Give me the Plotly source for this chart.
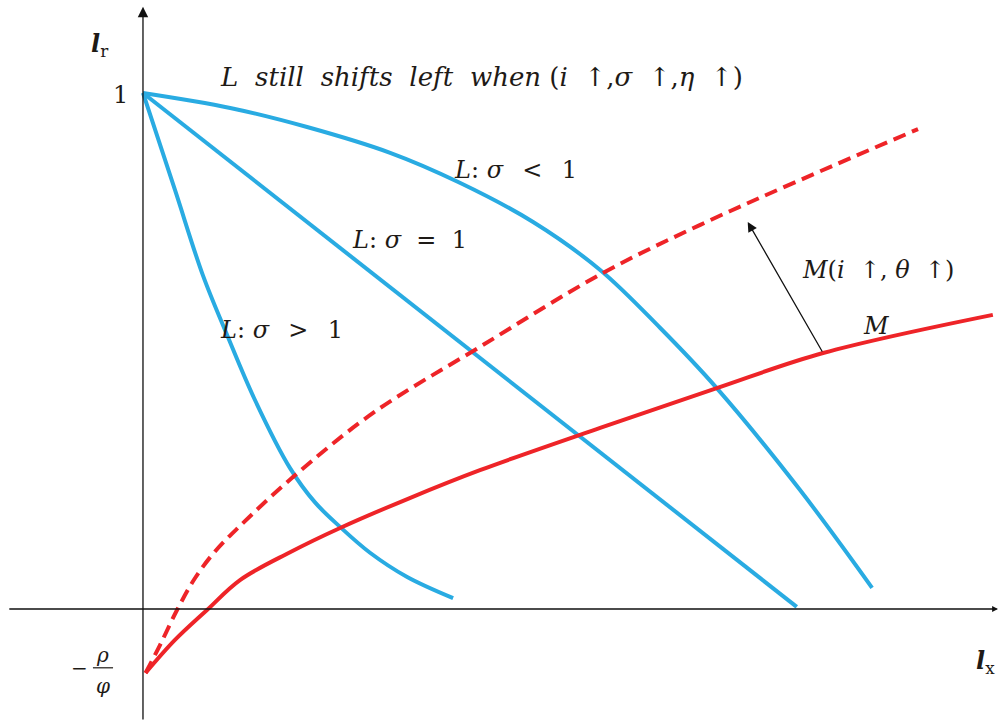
import plotly.graph_objects as go

# Labour-market curves L (three elasticity cases), in (l_x, l_r) units
l_sigma_lt1_x = [0.0, 0.169, 0.318, 0.479, 0.614, 0.756, 0.886, 1.002, 1.112, 1.273, 1.413]
l_sigma_lt1_y = [1.0, 0.971, 0.934, 0.884, 0.826, 0.750, 0.657, 0.545, 0.428, 0.231, 0.041]

l_sigma_eq1_x = [0.0, 1.267]
l_sigma_eq1_y = [1.0, 0.004]

l_sigma_gt1_x = [0.0, 0.062, 0.116, 0.163, 0.217, 0.285, 0.333, 0.382, 0.440, 0.512, 0.601]
l_sigma_gt1_y = [1.0, 0.812, 0.647, 0.531, 0.405, 0.273, 0.207, 0.159, 0.109, 0.062, 0.021]

# Money-market curve M and its shifted position M(i↑, θ↑)
m_x = [0.005, 0.062, 0.124, 0.188, 0.285, 0.382, 0.517, 0.653, 0.886, 1.112, 1.318, 1.647]
m_y = [-0.124, -0.060, -0.002, 0.056, 0.110, 0.157, 0.215, 0.269, 0.351, 0.428, 0.496, 0.570]

m_shift_x = [0.005, 0.033, 0.066, 0.101, 0.140, 0.188, 0.291, 0.446, 0.653, 0.891, 1.079, 1.273, 1.502]
m_shift_y = [-0.124, -0.070, -0.002, 0.060, 0.112, 0.161, 0.256, 0.380, 0.508, 0.651, 0.744, 0.831, 0.930]

# Shift arrow between M and M(i↑, θ↑)
shift_tail = (1.318, 0.496)
shift_head = (1.172, 0.750)

X_RANGE = [-0.2771, 1.6609]
Y_RANGE = [-0.2171, 1.1802]

BLUE = "#29ABE2"
RED = "#EE2428"
INK = "#1e1a16"
MATH_FONT = "DejaVu Serif"
SP = "&nbsp;"
WORD_GAP = " &#8196;"
ARROW_GAP = "&nbsp;&nbsp;"
REL_GAP = "&nbsp;&nbsp;&#8198;"

fig = go.Figure()

for xs, ys in [(l_sigma_lt1_x, l_sigma_lt1_y),
               (l_sigma_eq1_x, l_sigma_eq1_y),
               (l_sigma_gt1_x, l_sigma_gt1_y)]:
    fig.add_trace(go.Scatter(x=xs, y=ys, mode="lines",
                             line=dict(color=BLUE, width=4, shape="spline", smoothing=1.0),
                             hoverinfo="skip", showlegend=False))

fig.add_trace(go.Scatter(x=m_x, y=m_y, mode="lines",
                         line=dict(color=RED, width=4, shape="spline", smoothing=1.0),
                         hoverinfo="skip", showlegend=False))
fig.add_trace(go.Scatter(x=m_shift_x, y=m_shift_y, mode="lines",
                         line=dict(color=RED, width=4, shape="spline", smoothing=1.0,
                                   dash="13px,7px"),
                         hoverinfo="skip", showlegend=False))

annotations = []

# coordinate axes with arrowheads
annotations.append(dict(x=0, y=1.167, ax=0, ay=Y_RANGE[0], xref="x", yref="y",
                        axref="x", ayref="y", showarrow=True, arrowhead=2,
                        arrowsize=1.6, arrowwidth=1.3, arrowcolor="#111", text=""))
annotations.append(dict(x=1.657, y=0, ax=-0.262, ay=0, xref="x", yref="y",
                        axref="x", ayref="y", showarrow=True, arrowhead=2,
                        arrowsize=0.9, arrowwidth=1.3, arrowcolor="#111", text=""))

# shift arrow
annotations.append(dict(x=shift_head[0], y=shift_head[1], ax=shift_tail[0], ay=shift_tail[1],
                        xref="x", yref="y", axref="x", ayref="y", showarrow=True,
                        arrowhead=2, arrowsize=1.5, arrowwidth=1.3, arrowcolor="#111", text=""))


def label(x, y, text, size=24, anchor="center", family=MATH_FONT, color=INK):
    annotations.append(dict(x=x, y=y, xref="x", yref="y", text=text, showarrow=False,
                            xanchor=anchor, yanchor="middle",
                            font=dict(family=family, size=size, color=color)))


title_words = WORD_GAP.join(["L", "still", "shifts", "left", "when"])
label(0.145, 1.031,
      f"<i>{title_words}</i>{SP}(<i>i</i>{ARROW_GAP}↑,<i>σ</i>{ARROW_GAP}↑,<i>η</i>{ARROW_GAP}↑)",
      size=26, anchor="left")
label(-0.043, 0.996, "1", size=24)
label(-0.083, 1.093, "<b><i>l</i></b><sub>r</sub>", size=24)
label(1.632, -0.103, "<b><i>l</i></b><sub>x</sub>", size=24)
label(0.599, 0.851, f"<i>L</i>:{SP}<i>σ</i>{REL_GAP}&lt;{REL_GAP}1", anchor="left")
label(0.401, 0.715, f"<i>L</i>:{SP}<i>σ</i>{SP}{SP}={SP}{SP}1", anchor="left")
label(0.145, 0.541, f"<i>L</i>:{SP}<i>σ</i>{REL_GAP}&gt;{REL_GAP}1", anchor="left")
label(1.273, 0.657, f"<i>M</i>(<i>i</i>{ARROW_GAP}↑,{SP}<i>θ</i>{ARROW_GAP}↑)", anchor="left")
label(1.422, 0.548, "<i>M</i>")

# −ρ/φ intercept label
label(-0.124, -0.114, "−", size=20)
label(-0.078, -0.089, "<i>ρ</i>", size=20)
label(-0.078, -0.149, "<i>φ</i>", size=20)

shapes = [dict(type="line", xref="x", yref="y", x0=-0.097, x1=-0.058, y0=-0.114, y1=-0.114,
               line=dict(color=INK, width=1.2))]

fig.update_layout(
    width=1000, height=721,
    margin=dict(l=0, r=0, t=0, b=0),
    paper_bgcolor="white", plot_bgcolor="white",
    xaxis=dict(range=X_RANGE, visible=False, fixedrange=True),
    yaxis=dict(range=Y_RANGE, visible=False, fixedrange=True),
    annotations=annotations, shapes=shapes,
    showlegend=False,
)

fig.write_html("out.html")
